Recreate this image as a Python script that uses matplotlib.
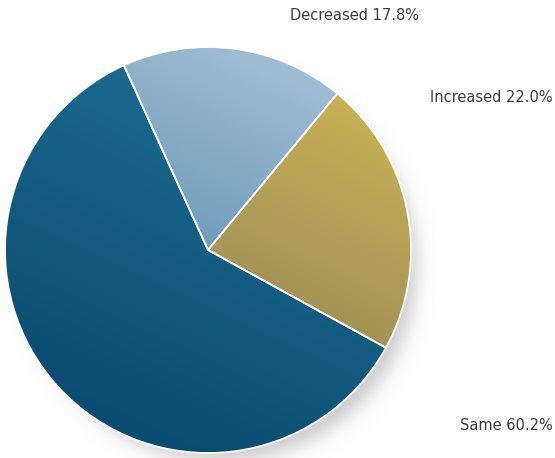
import numpy as np
import matplotlib
matplotlib.use('Agg')
import matplotlib.pyplot as plt
from matplotlib.colors import LinearSegmentedColormap

# Data
labels = ['Decreased', 'Increased', 'Same']
shares = [17.8, 22.0, 60.2]
light_colors = ['#aac3d8', '#ccb654', '#1f7498']
dark_colors = ['#6797b7', '#978858', '#07456a']

W, H = 555, 458
fig = plt.figure(figsize=(W / 100, H / 100), dpi=100)
ax = fig.add_axes([0, 0, 1, 1])

cx, cy, r = 208, 208, 203

# soft drop shadow toward the bottom-right of the pie
yy, xx = np.mgrid[0:H:1.0, 0:W:1.0]
d = np.hypot(xx - (cx + 13), yy - (cy - 17))
alpha = 0.45 * 0.5 * (1 - np.tanh((d - r + 8) / 11))
shadow = np.zeros((H, W, 4))
shadow[..., :3] = 0.55
shadow[..., 3] = alpha
ax.imshow(shadow, extent=(0, W, 0, H), origin='lower', zorder=0)

wedges, _ = ax.pie(shares, center=(cx, cy), radius=r, startangle=114.5,
                   counterclock=False, frame=True,
                   wedgeprops=dict(edgecolor='white', linewidth=1.3))

# gradient fill clipped to each wedge (light at top-right, dark at bottom-left)
ang = np.deg2rad(65)
for w, c0, c1 in zip(wedges, light_colors, dark_colors):
    x0, y0, x1, y1 = w.get_path().get_extents().extents
    bx = np.linspace(x0, x1, 200)
    by = np.linspace(y0, y1, 200)
    gx, gy = np.meshgrid(bx, by)
    t = gx * np.cos(ang) + gy * np.sin(ang)
    t = (t - t.min()) / (t.max() - t.min())
    cmap = LinearSegmentedColormap.from_list('g', [c1, c0])
    im = ax.imshow(t, cmap=cmap, extent=(x0, x1, y0, y1), origin='lower',
                   interpolation='bilinear', zorder=1)
    im.set_clip_path(w)
    w.set_facecolor('none')
    w.set_zorder(2)

txt = dict(fontsize=10.5, color='#3a3a3a', va='center', family='DejaVu Sans')
ax.text(355, H - 16, f'{labels[0]} {shares[0]:.1f}%', ha='center', **txt)
ax.text(553, H - 97, f'{labels[1]} {shares[1]:.1f}%', ha='right', **txt)
ax.text(553, H - 426, f'{labels[2]} {shares[2]:.1f}%', ha='right', **txt)

ax.set_xlim(0, W)
ax.set_ylim(0, H)
ax.set_aspect('equal')
ax.axis('off')

fig.savefig('out.png', dpi=100, facecolor='white')
